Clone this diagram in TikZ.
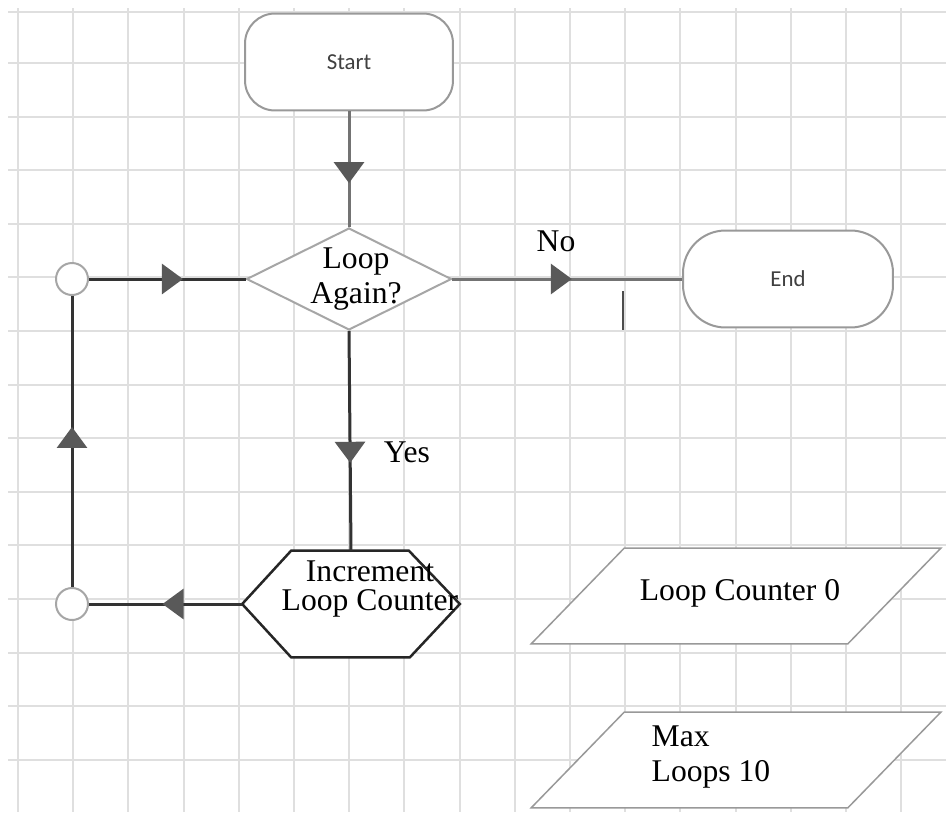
\documentclass[tikz,border=0pt]{standalone}
\usepackage{fontspec}
\setmainfont{Liberation Serif}
\newfontfamily\calibri{Carlito}
\usetikzlibrary{shapes.geometric,arrows.meta,decorations.markings}

\begin{document}
\begin{tikzpicture}[x=0.02cm,y=-0.02cm,
  gridline/.style={gray!25,line width=0.04cm},
  flow/.style={black!80,line width=0.06cm},
  lightflow/.style={black!55,line width=0.06cm},
  midarrow/.style={postaction={decorate},decoration={markings,
    mark=at position #1 with {\arrow[black!65]{Triangle[width=0.6cm,length=0.42cm]}}}},
  term/.style={draw=black!40,line width=0.04cm,fill=white,minimum height=1.94cm,
    font=\calibri\fontsize{13}{15}\selectfont,text=black!75},
  joint/.style={circle,draw=black!35,line width=0.04cm,fill=white,minimum size=0.64cm,inner sep=0pt},
  iobox/.style={minimum width=8.18cm,minimum height=1.9cm,inner sep=0pt},
  ioline/.style={draw=black!40,line width=0.03cm,fill=white},
  label/.style={font=\fontsize{18}{20}\selectfont,align=center}]
\fill[white] (0,0) rectangle (946,812);
\useasboundingbox (0,0) rectangle (946,812);

% grid paper
\foreach \i in {0,...,16}
  \draw[gridline] ({18+55.2*\i},8) -- ({18+55.2*\i},812);
\foreach \j in {0,...,13}
  \draw[gridline] (8,{63+53.6*\j}) -- (946,{63+53.6*\j});
\draw[gridline] (8,12) -- (946,12);

% shapes
\node[term,rounded corners=0.6cm,minimum width=4.16cm] (start) at (349,62) {Start};
\node[diamond,draw=black!35,line width=0.04cm,fill=white,inner sep=0pt,
  minimum width=4.1cm,minimum height=2.04cm] (loop) at (349,279) {};
\node[label] (looptxt) at (356,279) {Loop\\Again?};
\node[term,rounded corners=0.85cm,minimum width=4.2cm] (end) at (788,279) {End};
\node[joint] (top) at (72,279) {};
\node[joint] (bot) at (72,604) {};

\node[minimum width=4.34cm,minimum height=2.12cm,inner sep=0pt] (inc) at (351,604) {};
\draw[black!85,line width=0.05cm,fill=white] (inc.west) -- ([xshift=0.98cm]inc.north west)
  -- ([xshift=-1.02cm]inc.north east) -- (inc.east) -- ([xshift=-1.0cm]inc.south east)
  -- ([xshift=0.98cm]inc.south west) -- cycle;
\node[label,font=\fontsize{18}{17}\selectfont] (inctxt) at (370,589) {Increment\\Loop Counter};

% data boxes
\node[iobox] (cnt) at (736,596) {};
\draw[ioline] ([xshift=1.86cm]cnt.north west) -- (cnt.north east)
  -- ([xshift=-1.86cm]cnt.south east) -- (cnt.south west) -- cycle;
\node[label] (cnttxt) at (740,593) {Loop Counter 0};
\node[iobox] (max) at (736,760) {};
\draw[ioline] ([xshift=1.86cm]max.north west) -- (max.north east)
  -- ([xshift=-1.86cm]max.south east) -- (max.south west) -- cycle;
\node[label,align=left] (maxtxt) at (711,757) {Max\\Loops 10};

% connectors
\draw[lightflow,midarrow=0.62] (start.south) -- (loop.north);
\draw[flow,midarrow=0.6] (top) -- (loop.west);
\draw[lightflow,midarrow=0.52] (loop.east) -- (end.west);
\draw[flow,midarrow=0.6] (loop.south) -- (inc.north);
\draw[flow,midarrow=0.52] (inc.west) -- (bot);
\draw[flow,midarrow=0.55] (bot) -- (top);
\node[label] (no) at (556,241) {No};
\node[label] (yes) at (407,452) {Yes};
\draw[black!70,line width=0.04cm] (623,291) -- (623,330);
\end{tikzpicture}
\end{document}
